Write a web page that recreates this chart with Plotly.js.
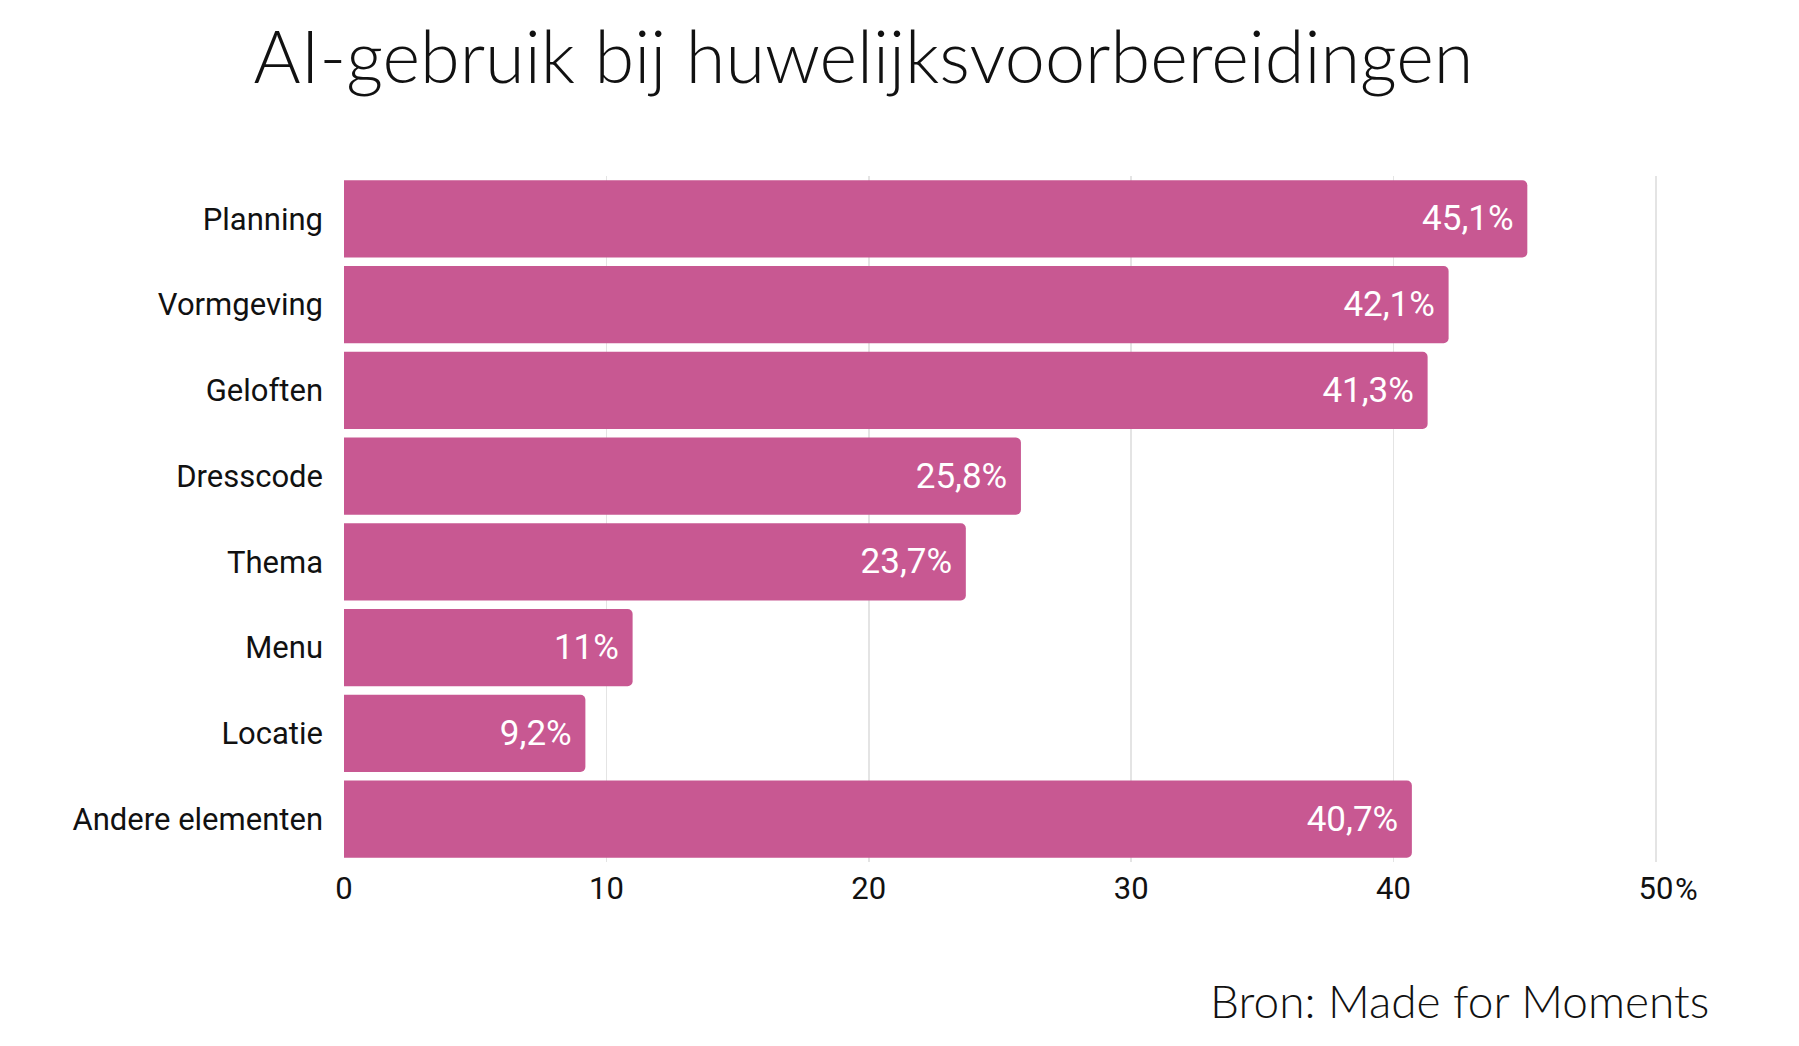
<!DOCTYPE html>
<html>
<head>
<meta charset="utf-8">
<script src="https://cdn.plot.ly/plotly-3.0.1.min.js"></script>
<style>
  html, body { margin: 0; padding: 0; background: #fff; }
  #chart { width: 1799px; height: 1046px; }
</style>
</head>
<body>
<div id="chart"></div>
<script>
// categories top to bottom
const categories = ['Planning', 'Vormgeving', 'Geloften', 'Dresscode', 'Thema', 'Menu', 'Locatie', 'Andere elementen'];
const values = [45.1, 42.1, 41.3, 25.8, 23.7, 11, 9.2, 40.7];
const tickVals = [0, 10, 20, 30, 40, 50];
const tickLabels = ['0', '10', '20', '30', '40', '50'];

const barColor = '#C85892';
const labelFont = 'Roboto, "Liberation Sans", sans-serif';
const titleFont = 'Lato, "Open Sans", sans-serif';

// 45.1 -> "45,1%" (trailing nbsp keeps the label off the bar end)
function fmt(v) {
    return String(v).replace('.', ',') + '%\u00a0';
}

const trace = {
    type: 'bar',
    orientation: 'h',
    x: values,
    y: categories,
    marker: { color: barColor, cornerradius: 5 },
    text: values.map(fmt),
    textposition: 'inside',
    insidetextanchor: 'end',
    textangle: 0,
    insidetextfont: { family: labelFont, size: 35, color: '#ffffff' },
    hoverinfo: 'skip'
};

const layout = {
    width: 1799,
    height: 1046,
    margin: { l: 344, r: 130, t: 176, b: 184 },
    paper_bgcolor: '#ffffff',
    plot_bgcolor: '#ffffff',
    bargap: 0.1,
    showlegend: false,
    title: {
        text: 'AI-gebruik bij huwelijksvoorbereidingen',
        font: { family: titleFont, size: 72, weight: 300, color: '#111111' },
        x: 0.48,
        xanchor: 'center',
        xref: 'container',
        yref: 'container',
        y: 0.945,
        yanchor: 'middle'
    },
    xaxis: {
        range: [0, 50.5],
        tickvals: tickVals,
        ticktext: tickLabels,
        showgrid: true,
        gridcolor: '#e4e4e4',
        gridwidth: 1.5,
        zeroline: false,
        showline: false,
        ticks: '',
        ticklabelstandoff: 5,
        tickfont: { family: labelFont, size: 31, color: '#111111' }
    },
    yaxis: {
        autorange: 'reversed',
        showgrid: false,
        zeroline: false,
        showline: false,
        ticks: '',
        ticklabelstandoff: 20,
        tickfont: { family: labelFont, size: 31, color: '#111111' }
    },
    annotations: [
        {
            // percent sign after the last tick, number stays centred on its gridline
            text: '%',
            x: 50,
            xref: 'x',
            y: 0,
            yref: 'paper',
            xanchor: 'left',
            yanchor: 'top',
            xshift: 17,
            yshift: -7,
            showarrow: false,
            font: { family: labelFont, size: 31, color: '#111111' }
        },
        {
            text: 'Bron: Made for Moments',
            x: 1.0317,
            xref: 'paper',
            y: -0.202,
            yref: 'paper',
            xanchor: 'right',
            yanchor: 'middle',
            showarrow: false,
            font: { family: titleFont, size: 46, weight: 300, color: '#111111' }
        }
    ]
};

Plotly.newPlot('chart', [trace], layout, { displayModeBar: false, staticPlot: true });
</script>
</body>
</html>
